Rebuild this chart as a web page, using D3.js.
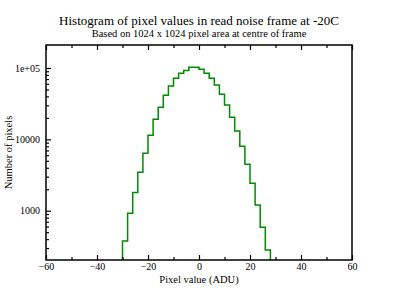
<!DOCTYPE html>
<html>
<head>
<meta charset="utf-8">
<script src="https://cdn.jsdelivr.net/npm/d3@7"></script>
<style>
  body { margin: 0; background: #fff; }
  svg text { font-family: "Liberation Serif", "Times New Roman", "DejaVu Serif", serif !important; fill: #000; }
</style>
</head>
<body>
<svg id="chart" width="396" height="306"></svg>
<script>
// histogram bins (left edge of each 2 ADU bin) and counts
const binStarts = [-30, -28, -26, -24, -22, -20, -18, -16, -14, -12, -10, -8, -6, -4, -2,
                   0, 2, 4, 6, 8, 10, 12, 14, 16, 18, 20, 22, 24, 26];
const counts = [377, 920, 1800, 3460, 6380, 11400, 19100, 28150, 41400, 55900, 71700, 84250, 92200, 102200, 102200,
                95900, 84250, 71700, 57800, 42900, 30300, 20400, 13100, 8000, 4470, 2420, 1200, 586, 282];
const binWidth = 2;
const xMajor = [-60, -40, -20, 0, 20, 40, 60];
const xMinor = [-50, -30, -10, 10, 30, 50];
const yMajor = [1000, 10000, 100000];

const margin = { top: 45, right: 44, bottom: 46, left: 46 };
const svg = d3.select("#chart");
const W = 396, H = 306;
const width = W - margin.left - margin.right;
const height = H - margin.top - margin.bottom;

const g = svg.append("g").attr("transform", `translate(${margin.left},${margin.top})`);

const x = d3.scaleLinear().domain([-60, 60]).range([0, width]);
const y = d3.scaleLog().domain([204, 210000]).range([height, 0]);

// minor y ticks: 2..9 per decade
const yMinor = [];
[100, 1000, 10000].forEach(dec => {
    for (let k = 2; k <= 9; k++) {
        const v = dec * k;
        if (v > 204 && v < 200000) yMinor.push(v);
    }
});

// step path of histogram
const pts = [];
pts.push([binStarts[0], 150]);
binStarts.forEach((b, i) => {
    pts.push([b, counts[i]]);
    pts.push([b + binWidth, counts[i]]);
});
pts.push([binStarts[binStarts.length - 1] + binWidth, 150]);

g.append("clipPath").attr("id", "clip")
    .append("rect").attr("width", width).attr("height", height);

g.append("path")
    .datum(pts)
    .attr("clip-path", "url(#clip)")
    .attr("fill", "none")
    .attr("stroke", "#008b00")
    .attr("stroke-width", 1.5)
    .attr("d", d3.line().x(d => x(d[0])).y(d => y(d[1])));

function styleAxis(sel) {
    sel.attr("font-family", null);
    sel.select(".domain").remove();
    sel.selectAll(".tick line").attr("stroke", "#000").attr("stroke-width", 1.2);
    sel.selectAll("text").attr("font-size", 10);
}

// bottom axis
g.append("g").attr("transform", `translate(0,${height})`)
    .call(d3.axisBottom(x).tickValues(xMajor).tickSizeInner(-5).tickSizeOuter(0).tickPadding(3))
    .call(styleAxis);
g.append("g").attr("transform", `translate(0,${height})`)
    .call(d3.axisBottom(x).tickValues(xMinor).tickSizeInner(-3).tickSizeOuter(0).tickFormat(""))
    .call(styleAxis);
// top axis
g.append("g")
    .call(d3.axisTop(x).tickValues(xMajor).tickSizeInner(-5).tickSizeOuter(0).tickFormat(""))
    .call(styleAxis);
g.append("g")
    .call(d3.axisTop(x).tickValues(xMinor).tickSizeInner(-3).tickSizeOuter(0).tickFormat(""))
    .call(styleAxis);

// left axis
const fmtY = d => d >= 100000 ? "1e+05" : String(d);
g.append("g")
    .call(d3.axisLeft(y).tickValues(yMajor).tickSizeInner(-5).tickSizeOuter(0).tickPadding(6).tickFormat(fmtY))
    .call(styleAxis);
g.append("g")
    .call(d3.axisLeft(y).tickValues(yMinor).tickSizeInner(-3).tickSizeOuter(0).tickFormat(""))
    .call(styleAxis);

// frame
g.append("rect")
    .attr("width", width).attr("height", height)
    .attr("fill", "none").attr("stroke", "#000").attr("stroke-width", 1.5);

// titles
svg.append("text").attr("x", 199).attr("y", 25).attr("text-anchor", "middle")
    .attr("font-size", 13).text("Histogram of pixel values in read noise frame at -20C");
svg.append("text").attr("x", 199).attr("y", 37).attr("text-anchor", "middle")
    .attr("font-size", 10.5).text("Based on 1024 x 1024 pixel area at centre of frame");

svg.append("text").attr("x", 199).attr("y", 283).attr("text-anchor", "middle")
    .attr("font-size", 10.5).text("Pixel value (ADU)");
svg.append("text").attr("transform", `translate(12,${margin.top + height / 2}) rotate(-90)`)
    .attr("text-anchor", "middle")
    .attr("font-size", 10.5).text("Number of pixels");
</script>
</body>
</html>
